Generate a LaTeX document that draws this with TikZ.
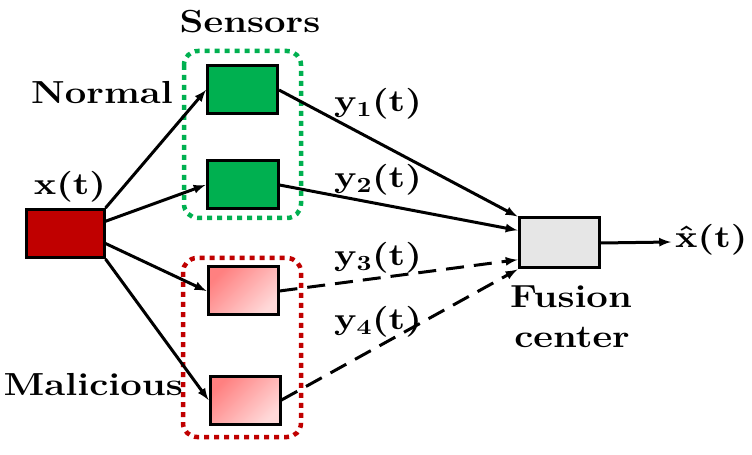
\documentclass[tikz,border=0pt]{standalone}
\usepackage{amsmath,amssymb}
\usepackage{tikz}
\usetikzlibrary{calc}
\usepackage{xcolor}
\DeclareFontShape{OT1}{cmr}{bx}{n}{<->cmbx10}{}

\definecolor{darkred}{HTML}{C00000}
\definecolor{sensgreen}{HTML}{00B050}
\definecolor{fusiongray}{HTML}{E6E6E6}
\newcommand{\wlbl}[1]{\scalebox{1.2}[1]{#1}}

\begin{document}
\begin{tikzpicture}[x=1bp,y=-1bp,
  lbl/.style={font=\fontsize{32}{36}\selectfont\bfseries\boldmath, inner sep=0},
  mlbl/.style={lbl, font=\fontsize{31}{36}\selectfont\bfseries\boldmath},
  box/.style={draw=black, line width=3bp, minimum width=#1, minimum height=48bp, inner sep=0},
  grp/.style={line width=4.5bp, dash pattern=on 5bp off 5bp, rounded corners=14bp},
  link/.style={line width=3bp, -latex},
  spy/.style={link, dash pattern=on 18bp off 10bp}]
\useasboundingbox (0,0) rectangle (752,455);
% groups of sensors
\draw [grp, sensgreen] (184,51) rectangle (301,218);
\draw [grp, darkred] (183,258) rectangle (301,437);
% boxes
\node [box=77bp, fill=darkred] (inp) at (65.5,233.5) {};
\node [box=70bp, fill=sensgreen] (s1) at (242.5,90) {};
\node [box=71bp, fill=sensgreen] (s2) at (242.5,185) {};
\node [box=70bp, top color=red!50, bottom color=red!15, shading angle=45] (m1) at (243,291) {};
\node [box=70bp, top color=red!50, bottom color=red!15, shading angle=45] (m2) at (245,400) {};
\node [box=80bp, minimum height=50bp, fill=fusiongray] (fc) at (559,243) {};
\coordinate (out) at (671,242);
% labels
\node [lbl] (sens) at (250,22) {\wlbl{Sensors}};
\node [lbl, anchor=east] (norm) at (173,93) {\wlbl{Normal}};
\node [lbl, anchor=east] (mal) at (183,385) {\wlbl{Malicious}};
\node [mlbl] (xt) at (70,187) {\wlbl{$\mathbf{x(t)}$}};
\node [lbl] (fus) at (571,297) {\wlbl{Fusion}};
\node [lbl] (cen) at (572,337) {\wlbl{center}};
\node [mlbl] (y1) at (378,104) {\wlbl{$\mathbf{y_1(t)}$}};
\node [mlbl] (y2) at (378,180) {\wlbl{$\mathbf{y_2(t)}$}};
\node [mlbl] (y3) at (378,258) {\wlbl{$\mathbf{y_3(t)}$}};
\node [mlbl] (y4) at (378,322) {\wlbl{$\mathbf{y_4(t)}$}};
\node [mlbl, anchor=west] (xhat) at (675,240) {\wlbl{$\hat{\mathbf{x}}\mathbf{(t)}$}};
% links
\draw [link] (inp.north east) -- (s1.west);
\draw [link] (inp.17) -- (s2.west);
\draw [link] (inp.346) -- (m1.west);
\draw [link] (inp.south east) -- (m2.west);
\draw [link] (s1.east) -- (fc.north west);
\draw [link] (s2.east) -- (fc.163);
\draw [spy] (m1.east) -- (fc.202);
\draw [spy] (m2.east) -- (fc.south west);
\draw [link] (fc.east) -- (out);
\end{tikzpicture}
\end{document}
